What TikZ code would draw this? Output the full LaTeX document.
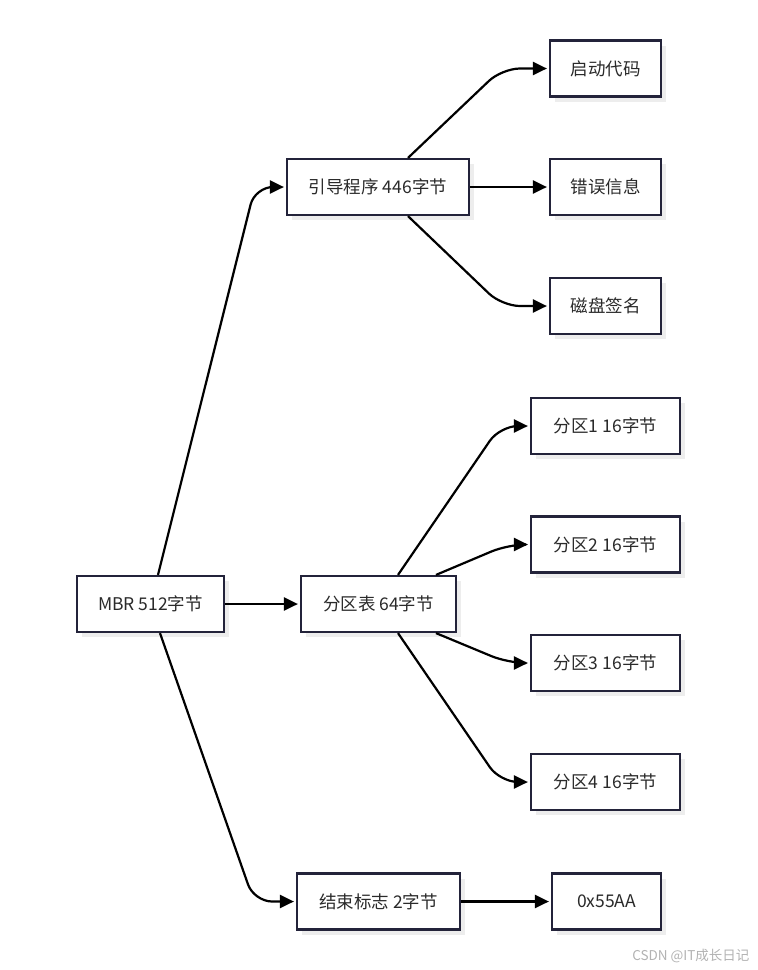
\documentclass[tikz,border=0pt]{standalone}
\usepackage{fontspec}
\setmainfont{Noto Sans CJK SC}
\usetikzlibrary{arrows.meta}
\usetikzlibrary{shadows}
\definecolor{boxline}{HTML}{23233A}
\definecolor{boxtext}{HTML}{2A2A2A}

\begin{document}
\begin{tikzpicture}
		[x=1pt, y=-1pt,
		 box/.style={rectangle, draw=boxline, line width=2.2pt, fill=white, text=boxtext,
			minimum height=56pt, inner xsep=0pt, font=\fontsize{17.5}{20}\selectfont,
			drop shadow={shadow xshift=5pt, shadow yshift=-5pt, fill=black!7, opacity=1}},
		 link/.style={line width=2.2pt, rounded corners=18pt, -{Triangle[length=14pt,width=13pt]}}]
		\useasboundingbox (0,0) rectangle (758,970);
		\node[box, minimum width=147pt] (mbr) at (150.5,604) {MBR 512字节};
		\node[box, minimum width=182pt] (boot) at (378,187) {引导程序 446字节};
		\node[box, minimum width=155pt] (table) at (378.5,604) {分区表 64字节};
		\node[box, minimum width=163pt] (end) at (378.5,901.5) {结束标志 2字节};
		\node[box, minimum width=111pt] (code) at (605.5,68.5) {启动代码};
		\node[box, minimum width=111pt] (err) at (605.5,187) {错误信息};
		\node[box, minimum width=111pt] (sig) at (605.5,306) {磁盘签名};
		\node[box, minimum width=149pt] (p1) at (605.5,426) {分区1 16字节};
		\node[box, minimum width=149pt] (p2) at (605.5,544.5) {分区2 16字节};
		\node[box, minimum width=149pt] (p3) at (605.5,663) {分区3 16字节};
		\node[box, minimum width=149pt] (p4) at (605.5,782) {分区4 16字节};
		\node[box, minimum width=109pt] (magic) at (606.5,901.5) {0x55AA};
		\node[text=black!30, font=\fontsize{13.5}{15}\selectfont, anchor=east] (mark) at (753,956) {CSDN @IT成长日记};

		\draw[link] ([xshift=7.5pt]mbr.north) -- (255,0 |- boot.west) -- ([xshift=-2pt]boot.west);
		\draw[link] (mbr) -- ([xshift=-2pt]table.west);
		\draw[link] ([xshift=9.5pt]mbr.south) -- (254,0 |- end.west) -- ([xshift=-2pt]end.west);

		\draw[link] ([xshift=30pt]boot.north) -- (502,0 |- code.west) -- ([xshift=-2pt]code.west);
		\draw[link] (boot) -- ([xshift=-2pt]err.west);
		\draw[link] ([xshift=30pt]boot.south) -- (502,0 |- sig.west) -- ([xshift=-2pt]sig.west);

		\draw[link] ([xshift=19.5pt]table.north) -- (500,0 |- p1.west) -- ([xshift=-2pt]p1.west);
		\draw[link] ([xshift=57.5pt]table.north) -- (508,0 |- p2.west) -- ([xshift=-2pt]p2.west);
		\draw[link] ([xshift=57.5pt]table.south) -- (508,0 |- p3.west) -- ([xshift=-2pt]p3.west);
		\draw[link] ([xshift=19.5pt]table.south) -- (500,0 |- p4.west) -- ([xshift=-2pt]p4.west);

		\draw[link] (end) -- ([xshift=-2pt]magic.west);
	\end{tikzpicture}
\end{document}
